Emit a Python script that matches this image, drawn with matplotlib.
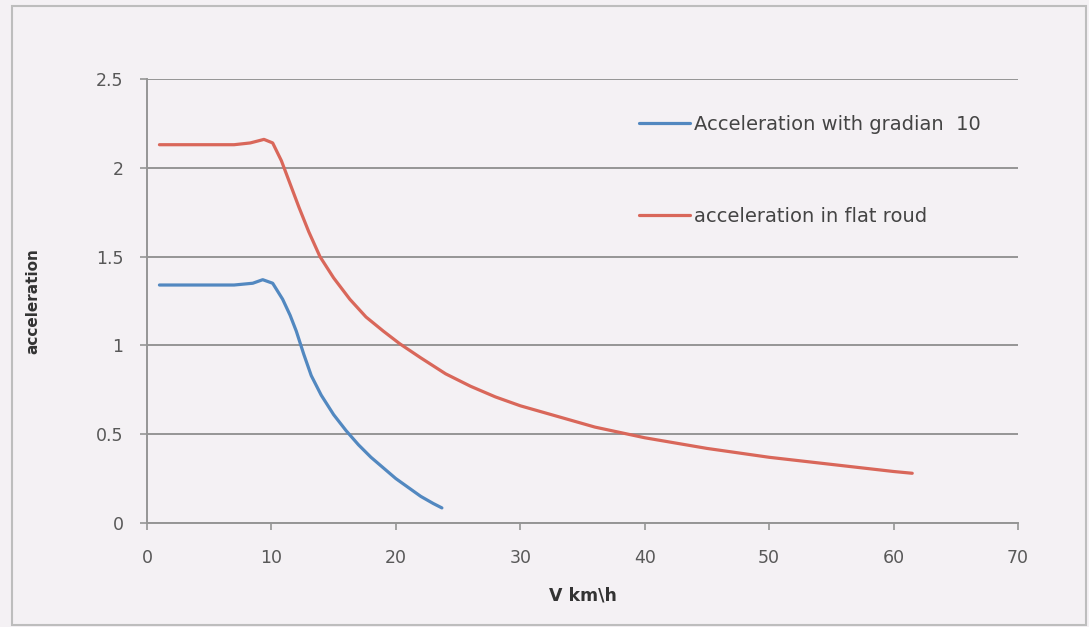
import matplotlib
matplotlib.use("Agg")
import matplotlib.pyplot as plt
from matplotlib.patches import Rectangle

# Speed (km/h) and acceleration for the slope case
speed_slope = [1, 3, 5, 7, 8.5, 9.3, 10.1, 10.9, 11.5, 12.0, 12.6, 13.2,
               14.0, 15.0, 16.0, 17.0, 18.0, 19.0, 20.0, 21.0, 22.0, 23.0, 23.7]
accel_slope = [1.34, 1.34, 1.34, 1.34, 1.35, 1.37, 1.35, 1.26, 1.17, 1.08,
               0.95, 0.83, 0.72, 0.61, 0.52, 0.44, 0.37, 0.31, 0.25, 0.20,
               0.15, 0.11, 0.085]

# Speed (km/h) and acceleration on a flat road
speed_flat = [1, 3, 5, 7, 8.3, 9.4, 10.1, 10.8, 11.5, 12.2, 13.0, 13.9,
              15.0, 16.3, 17.6, 19.0, 20.3, 22.0, 24.0, 26.0, 28.0, 30.0,
              33.0, 36.0, 40.0, 45.0, 50.0, 55.0, 60.0, 61.5]
accel_flat = [2.13, 2.13, 2.13, 2.13, 2.14, 2.16, 2.14, 2.04, 1.91, 1.78,
              1.64, 1.50, 1.38, 1.26, 1.16, 1.08, 1.01, 0.93, 0.84, 0.77,
              0.71, 0.66, 0.60, 0.54, 0.48, 0.42, 0.37, 0.33, 0.29, 0.28]

label_slope = "Acceleration with gradian  10"
label_flat = "acceleration in flat roud"

x_ticks = [0, 10, 20, 30, 40, 50, 60, 70]
y_ticks = [0, 0.5, 1, 1.5, 2, 2.5]
y_tick_labels = ["0", "0.5", "1", "1.5", "2", "2.5"]

bg = "#f4f1f4"
grid_c = "#959595"
text_c = "#585858"

fig = plt.figure(figsize=(10.89, 6.27), dpi=100, facecolor=bg)
ax = fig.add_axes([147 / 1089, 1 - 523 / 627, (1018 - 147) / 1089, (523 - 79) / 627])
ax.set_facecolor(bg)

# outer chart frame
fig.patches.append(Rectangle((12 / 1089, 2 / 627), (1086 - 12) / 1089, (621 - 2) / 627,
                             transform=fig.transFigure, fill=False,
                             edgecolor="#bdbdbd", linewidth=1.5))

ax.plot(speed_slope, accel_slope, color="#5288c0", linewidth=2.3,
        solid_capstyle="round", label=label_slope)
ax.plot(speed_flat, accel_flat, color="#d9675a", linewidth=2.3,
        solid_capstyle="round", label=label_flat)

ax.set_xlim(0, 70)
ax.set_ylim(0, 2.5)
ax.set_xticks(x_ticks)
ax.set_yticks(y_ticks)
ax.set_yticklabels(y_tick_labels)

ax.yaxis.grid(True, color=grid_c, linewidth=1.4)
ax.set_axisbelow(True)
for side in ("top", "right"):
    ax.spines[side].set_visible(False)
ax.spines["left"].set_color(grid_c)
ax.spines["left"].set_linewidth(1.4)
ax.spines["bottom"].set_color(grid_c)
ax.spines["bottom"].set_linewidth(1.4)

ax.tick_params(axis="both", colors=grid_c, labelcolor=text_c, labelsize=12.5,
               length=5, width=1.2)
ax.tick_params(axis="x", pad=14)
ax.tick_params(axis="y", pad=12)

ax.set_xlabel("V km\\h", fontsize=12.5, fontweight="bold", color="#333333", labelpad=14)
ax.set_ylabel("acceleration", fontsize=11, fontweight="bold", color="#333333", labelpad=40)

leg = ax.legend(loc="upper left", bbox_to_anchor=(0.556, 0.937), frameon=False,
                fontsize=14, labelspacing=3.75, handlelength=2.6, handletextpad=0.25,
                borderaxespad=0)
for t in leg.get_texts():
    t.set_color("#444444")

fig.savefig("out.png", dpi=100, facecolor=bg)
